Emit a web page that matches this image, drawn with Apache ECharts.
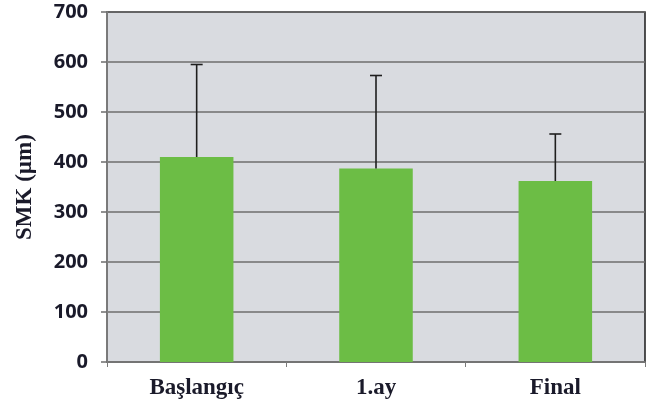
<!DOCTYPE html>
<html>
<head>
<meta charset="utf-8">
<script src="https://cdn.jsdelivr.net/npm/echarts@6/dist/echarts.min.js"></script>
<style>
  html, body { margin: 0; padding: 0; background: #fff; }
  #chart { width: 650px; height: 410px; }
</style>
</head>
<body>
<div id="chart"></div>
<script>
// values
const categories = ['Başlangıç', '1.ay', 'Final']
const means = [410, 387, 362]
const sdUpper = [185, 186, 94]
const yTicks = [0, 100, 200, 300, 400, 500, 600, 700]

const serif = 'Liberation Serif'
const chart = echarts.init(document.getElementById('chart'))

// error bars are drawn upward only, from the bar top to mean + sd
const errorData = categories.map((c, i) => [i, means[i], means[i] + sdUpper[i]])

const renderError = (params, api) => {
  const lo = api.coord([api.value(0), api.value(1)])
  const hi = api.coord([api.value(0), api.value(2)])
  const half = 6
  const style = { stroke: '#1e1e1e', lineWidth: 1.6 }
  return {
    type: 'group',
    children: [
      { type: 'line', shape: { x1: hi[0], y1: hi[1], x2: lo[0], y2: lo[1] }, style },
      { type: 'line', shape: { x1: hi[0] - half, y1: hi[1], x2: hi[0] + half, y2: hi[1] }, style }
    ]
  }
}

const option = {
  animation: false,
  grid: {
    left: 107, right: 5, top: 12, bottom: 48,
    show: true,
    backgroundColor: '#d9dbe0',
    borderColor: '#1a1a1a',
    borderWidth: 1.5
  },
  xAxis: {
    type: 'category',
    data: categories,
    axisLine: { lineStyle: { color: '#7a7a7a', width: 1.5 } },
    axisTick: { show: true, length: 5, lineStyle: { color: '#7a7a7a' } },
    axisLabel: {
      margin: 15,
      fontFamily: serif, fontWeight: 'bold', fontSize: 23, color: '#1a1a2a'
    }
  },
  yAxis: {
    type: 'value',
    min: yTicks[0],
    max: yTicks[yTicks.length - 1],
    interval: 100,
    name: 'SMK (µm)',
    nameLocation: 'middle',
    nameGap: 70,
    nameRotate: 90,
    nameTextStyle: { fontFamily: serif, fontWeight: 'bold', fontSize: 23, color: '#1a1a2a' },
    axisLine: { show: true, lineStyle: { color: '#8a8a8a', width: 1.5 } },
    axisTick: { show: true, length: 6, lineStyle: { color: '#6e6e6e', width: 1.5 } },
    splitLine: { lineStyle: { color: '#6e6e6e', width: 1.5 } },
    axisLabel: {
      margin: 19,
      fontFamily: 'Open Sans', fontWeight: 'bold', fontSize: 20, color: '#1a1a2a'
    }
  },
  series: [
    {
      type: 'bar',
      data: means,
      barWidth: '41%',
      itemStyle: { color: '#6cbd45' },
      z: 2
    },
    {
      type: 'custom',
      data: errorData,
      renderItem: renderError,
      z: 3
    }
  ]
}

chart.setOption(option)
</script>
</body>
</html>
